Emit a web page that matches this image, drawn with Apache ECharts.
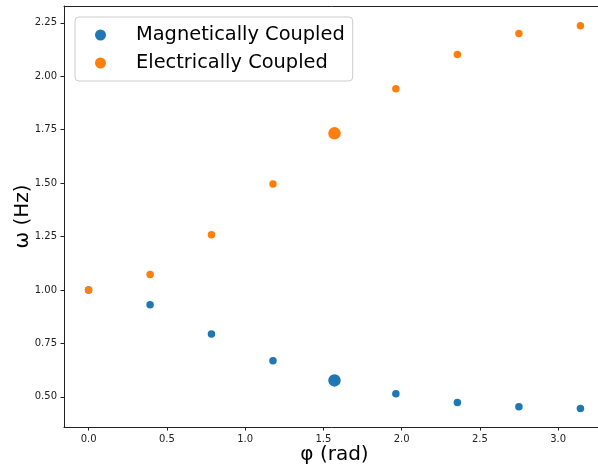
<!DOCTYPE html>
<html>
<head>
<meta charset="utf-8">
<script src="https://cdn.jsdelivr.net/npm/echarts@6/dist/echarts.min.js"></script>
<style>
  html, body { margin: 0; padding: 0; background: #fff; }
  #chart { width: 598px; height: 471px; }
</style>
</head>
<body>
<div id="chart"></div>
<script>
// Phase angle (rad) at which the normal-mode frequencies were evaluated
const phi = [0, 0.393, 0.785, 1.178, 1.571, 1.963, 2.356, 2.749, 3.142];
// Frequencies (Hz) of the two coupling schemes
const magneticOmega   = [1.000, 0.931, 0.794, 0.669, 0.577, 0.515, 0.474, 0.454, 0.446];
const electricOmega   = [1.000, 1.073, 1.259, 1.496, 1.733, 1.942, 2.102, 2.200, 2.237];
// Index of the highlighted point (φ = π/2)
const highlightIndex = 4;
// Tick labels
const xTicks = [0, 0.5, 1.0, 1.5, 2.0, 2.5, 3.0];
const yTicks = [0.5, 0.75, 1.0, 1.25, 1.5, 1.75, 2.0, 2.25];

const FONT = 'DejaVu Sans';
const INK = '#222';
const X_MIN = -0.157, X_MAX = 3.299;

function points(ys) {
  return phi.map((x, i) => ({
    value: [x, ys[i]],
    symbolSize: i === highlightIndex ? 12.5 : 7.5
  }));
}

const chart = echarts.init(document.getElementById('chart'), null, { renderer: 'canvas' });
chart.setOption({
  animation: false,
  backgroundColor: '#fff',
  grid: {
    left: 64, top: 6, width: 541, height: 421,
    containLabel: false, outerBoundsMode: 'none',
    show: false
  },
  legend: {
    orient: 'vertical',
    left: 75, top: 17,
    padding: [6, 8, 6, 20],
    itemWidth: 11, itemHeight: 11, itemGap: 4,
    backgroundColor: '#fff',
    borderColor: '#ccc', borderWidth: 1, borderRadius: 4,
    icon: 'circle',
    textStyle: { fontFamily: FONT, fontSize: 19.4, color: '#000', lineHeight: 24, padding: [0, 0, 0, 25] },
    data: ['Magnetically Coupled', 'Electrically Coupled']
  },
  xAxis: [
    {
      type: 'value',
      min: X_MIN, max: X_MAX,
      name: 'φ (rad)', nameLocation: 'middle', nameGap: 18, nameMoveOverlap: false,
      nameTextStyle: { fontFamily: FONT, fontSize: 20, color: '#000' },
      axisLine: { show: true, onZero: false, lineStyle: { color: INK, width: 1 } },
      axisTick: { show: true, length: 3.5, customValues: xTicks, lineStyle: { color: INK } },
      axisLabel: {
        customValues: xTicks, margin: 7,
        fontFamily: FONT, fontSize: 10, color: INK,
        formatter: v => v.toFixed(1)
      },
      splitLine: { show: false }
    },
    {
      // top spine of the frame
      type: 'value', position: 'top',
      min: X_MIN, max: X_MAX,
      axisLine: { show: true, onZero: false, lineStyle: { color: INK, width: 1 } },
      axisTick: { show: false }, axisLabel: { show: false }, splitLine: { show: false }
    }
  ],
  yAxis: {
    type: 'value',
    min: 0.359, max: 2.329,
    name: 'ω (Hz)', nameLocation: 'middle', nameGap: 31, nameRotate: 90, nameMoveOverlap: false,
    nameTextStyle: { fontFamily: FONT, fontSize: 20, color: '#000' },
    axisLine: { show: true, onZero: false, lineStyle: { color: INK, width: 1 } },
    axisTick: { show: true, length: 3.5, customValues: yTicks, lineStyle: { color: INK } },
    axisLabel: {
      customValues: yTicks, margin: 7,
      fontFamily: FONT, fontSize: 10, color: INK,
      formatter: v => v.toFixed(2)
    },
    splitLine: { show: false }
  },
  series: [
    {
      name: 'Magnetically Coupled',
      type: 'scatter',
      itemStyle: { color: '#1f77b4', opacity: 1 },
      data: points(magneticOmega)
    },
    {
      name: 'Electrically Coupled',
      type: 'scatter',
      itemStyle: { color: '#ff7f0e', opacity: 1 },
      data: points(electricOmega)
    }
  ]
});
</script>
</body>
</html>
